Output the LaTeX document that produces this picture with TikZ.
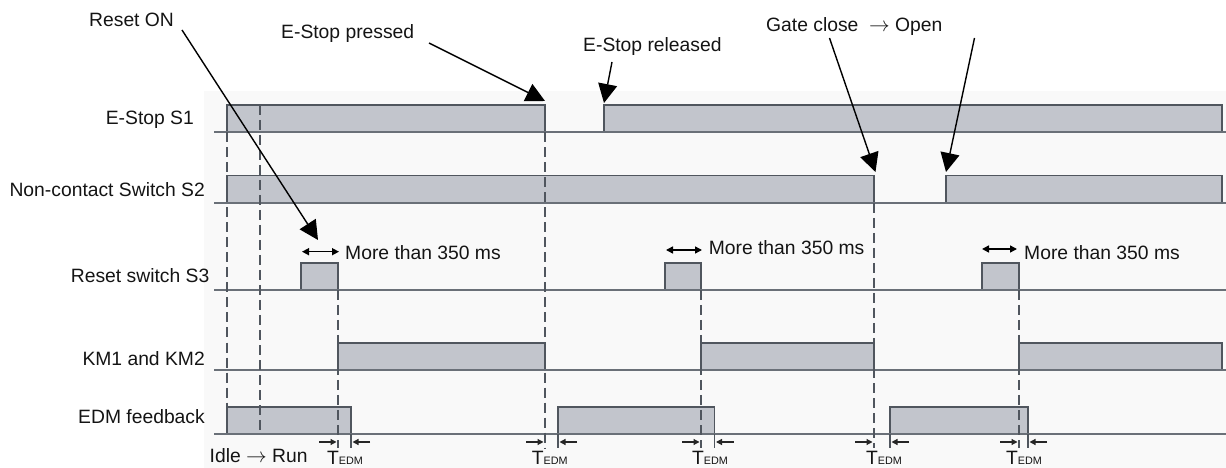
\documentclass[tikz,border=0pt]{standalone}
\usepackage{fontspec}
\setmainfont{Liberation Sans}
\usetikzlibrary{arrows.meta}
\definecolor{barfill}{HTML}{C2C5CC}
\definecolor{edgec}{HTML}{50565E}
\definecolor{basec}{HTML}{6A7078}
\definecolor{bgc}{HTML}{F9F9F9}
\newcommand\TEdm{T{\fontsize{10.8bp}{11bp}\selectfont EDM}}
\begin{document}
\begin{tikzpicture}[x=1bp,y=-1bp,
  lbl/.style={font=\fontsize{19.3bp}{22bp}\selectfont, inner sep=0pt, text=black!92},
  bar/.style={fill=barfill, draw=edgec, line width=1.6bp},
  baseln/.style={draw=basec, line width=2bp},
  vdash/.style={draw=edgec, line width=1.5bp, dash pattern=on 10bp off 5bp},
  callout/.style={draw=black, line width=1.4bp, -{Triangle[length=19bp,width=19bp]}},
  dbl/.style={draw=black, line width=1.5bp, {Triangle[length=7bp,width=7bp]}-{Triangle[length=7bp,width=7bp]}},
  tick/.style={draw=black!85, line width=1.2bp, -{Triangle[length=6bp,width=6bp]}},
  solidtick/.style={draw=edgec, line width=1.4bp},
]
\useasboundingbox (0,0) rectangle (1226,468);
\fill[bgc] (204,91) rectangle (1226,468);

% bars
\foreach \xa/\xb/\t/\b in {
  227/545/105/132.5, 604/1222/105/132.5,
  227/874/175.5/203, 946/1222/175.5/203,
  301/338/263/290, 665/701/263/290, 982/1019/263/290,
  338/545/343/370, 701/874/343/370, 1019/1222/343/370,
  227/351/407/434, 558/714.5/407/434, 890/1028/407/434}
  \draw[bar] (\xa,\b) rectangle (\xb,\t);

% baselines
\foreach \b/\n in {132.5/a, 203/b, 290/c, 370/d, 434/e} {
  \coordinate (bl\n) at (214,\b);
  \coordinate (br\n) at (1226,\b);
  \draw[baseln] (bl\n) -- (br\n);
}

% dashed time markers
\foreach \x/\ya/\yb/\n in {227/132.5/407/1, 260/105/434/2, 338/290/448/3, 545/132.5/448/4,
  701/290/448/5, 874/203/448/6, 1019/290/448/7} {
  \coordinate (dt\n) at (\x,\ya);
  \coordinate (db\n) at (\x,\yb);
  \draw[vdash] (dt\n) -- (db\n);
}

% solid ticks at EDM edges
\foreach \x/\n in {351/1, 558/2, 714.5/3, 890/4, 1028/5} {
  \coordinate (st\n) at (\x,434);
  \coordinate (sb\n) at (\x,448);
  \draw[solidtick] (st\n) -- (sb\n);
}

% TEDM arrows and labels
\foreach \xl/\xr/\tx/\n in {338/351/327/1, 545/558/531.6/2, 701/714.5/692/3, 874/890/866/4, 1019/1028/1006/5} {
  \coordinate (ta\n) at ({\xl-19},442);
  \coordinate (tb\n) at ({\xl-1.5},442);
  \coordinate (tc\n) at ({\xr+19},442);
  \coordinate (td\n) at ({\xr+1.5},442);
  \draw[tick] (ta\n) -- (tb\n);
  \draw[tick] (tc\n) -- (td\n);
  \node[lbl, anchor=base west] (tedm\n) at (\tx,465) {\TEdm};
}

% row labels
\node[lbl, anchor=base east] (l1) at (194,125) {E-Stop S1};
\node[lbl, anchor=base east] (l2) at (205,196.7) {Non-contact Switch S2};
\node[lbl, anchor=base east] (l3) at (209.5,283) {Reset switch S3};
\node[lbl, anchor=base east] (l4) at (205,365.7) {KM1 and KM2};
\node[lbl, anchor=base east] (l5) at (205,424) {EDM feedback};
\node[lbl, anchor=base west] (idle) at (209.5,463) {Idle $\rightarrow$ Run};

% pulse width annotations
\foreach \xa/\xb/\y/\tx/\ty/\n in {302/339/251.7/345/260/1, 666/702/250/708.6/255/2, 982/1017/249/1024/260/3} {
  \coordinate (pa\n) at (\xa,\y);
  \coordinate (pb\n) at (\xb,\y);
  \draw[dbl] (pa\n) -- (pb\n);
  \node[lbl, anchor=base west] (mt\n) at (\tx,\ty) {More than 350 ms};
}

% callouts
\node[lbl, anchor=base west] (reset) at (89,26.7) {Reset ON};
\node[lbl, anchor=base west] (press) at (281,39) {E-Stop pressed};
\node[lbl, anchor=base west] (rel) at (583,52) {E-Stop released};
\node[lbl, anchor=base west] (gate) at (766,31.7) {Gate close \ $\rightarrow$ Open};

\coordinate (rs) at (182,30);   \coordinate (rt) at (318,240);
\coordinate (ps) at (429,43);   \coordinate (pt) at (545,101);
\coordinate (es) at (612,62);   \coordinate (et) at (604,103);
\coordinate (gs) at (829.5,38); \coordinate (gt) at (875.5,172);
\coordinate (os) at (974.5,38); \coordinate (ot) at (946,172);
\draw[callout] (rs) -- (rt);
\draw[callout] (ps) -- (pt);
\draw[callout] (es) -- (et);
\draw[callout] (gs) -- (gt);
\draw[callout] (os) -- (ot);
\end{tikzpicture}
\end{document}
